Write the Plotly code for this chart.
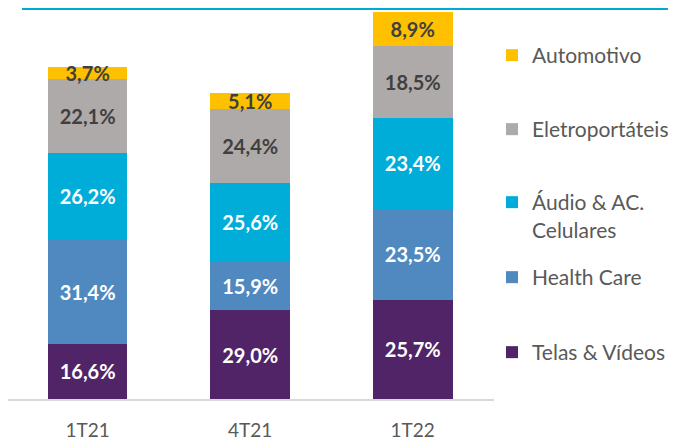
import plotly.graph_objects as go

# Quarters and the share (%) of each category, bottom to top of the stack
categories = ["1T21", "4T21", "1T22"]
telas = [16.6, 29.0, 25.7]
health = [31.4, 15.9, 23.5]
audio = [26.2, 25.6, 23.4]
eletro = [22.1, 24.4, 18.5]
auto = [3.7, 5.1, 8.9]

# relative size of each quarter's bar (1T21 = 100)
totals = [100, 92.2, 116.6]

series = [
    ("Telas & Vídeos", telas, "#512467", "white"),
    ("Health Care", health, "#4F89BF", "white"),
    ("Áudio & AC.<br>Celulares", audio, "#00ADD8", "white"),
    ("Eletroportáteis", eletro, "#AEAAA9", "#404040"),
    ("Automotivo", auto, "#FFC000", "#404040"),
]

FONT = "Lato, 'Open Sans', sans-serif"
# the page body adds an 8px margin, so the figure is 8px smaller than the window
W, H = 668, 433
L, R, T, B = 0, 182, 0, 42
PW, PH = W - L - R, H - T - B

# legend: top of each entry in figure pixels
legend_top = [324, 249, 174, 101, 27]

fig = go.Figure()
for i, (name, vals, color, tcolor) in enumerate(series):
    heights = [t * v / 100 for t, v in zip(totals, vals)]
    lg = "legend" if i == 0 else f"legend{i + 1}"
    fig.add_trace(go.Bar(
        x=categories,
        y=heights,
        name=name,
        marker=dict(color=color, line=dict(width=0)),
        text=[f"{v:.1f}%".replace(".", ",") for v in vals],
        textposition="inside",
        insidetextanchor="middle",
        constraintext="none",
        textangle=0,
        textfont=dict(family=FONT, size=20, color=tcolor, weight="bold"),
        legend=lg,
    ))

legends = {}
for i, ytop in enumerate(legend_top):
    key = "legend" if i == 0 else f"legend{i + 1}"
    legends[key] = dict(
        xref="container", yref="container",
        x=484 / W, y=1 - ytop / H, xanchor="left", yanchor="top",
        bgcolor="rgba(0,0,0,0)", borderwidth=0, valign="top",
        font=dict(family=FONT, size=21, color="#595959"),
        itemclick=False,
    )

fig.update_layout(
    width=W, height=H,
    margin=dict(l=L, r=R, t=T, b=B, autoexpand=False),
    paper_bgcolor="white",
    plot_bgcolor="white",
    barmode="stack",
    bargap=0.51,
    showlegend=True,
    **legends,
    xaxis=dict(
        range=[-0.49, 2.5], automargin=False,
        showline=True, linecolor="#D9D9D9", linewidth=2,
        showgrid=False, ticks="",
        ticklabelstandoff=13,
        tickfont=dict(family=FONT, size=19, color="#595959"),
    ),
    yaxis=dict(
        range=[0, PH / 332 * 100], automargin=False,
        visible=False, showgrid=False,
    ),
    shapes=[dict(
        type="line", xref="paper", yref="paper",
        x0=14 / PW, x1=W / PW, y0=1, y1=1,
        line=dict(color="#00AAD4", width=4),
    )],
)

fig.write_html("out.html")
